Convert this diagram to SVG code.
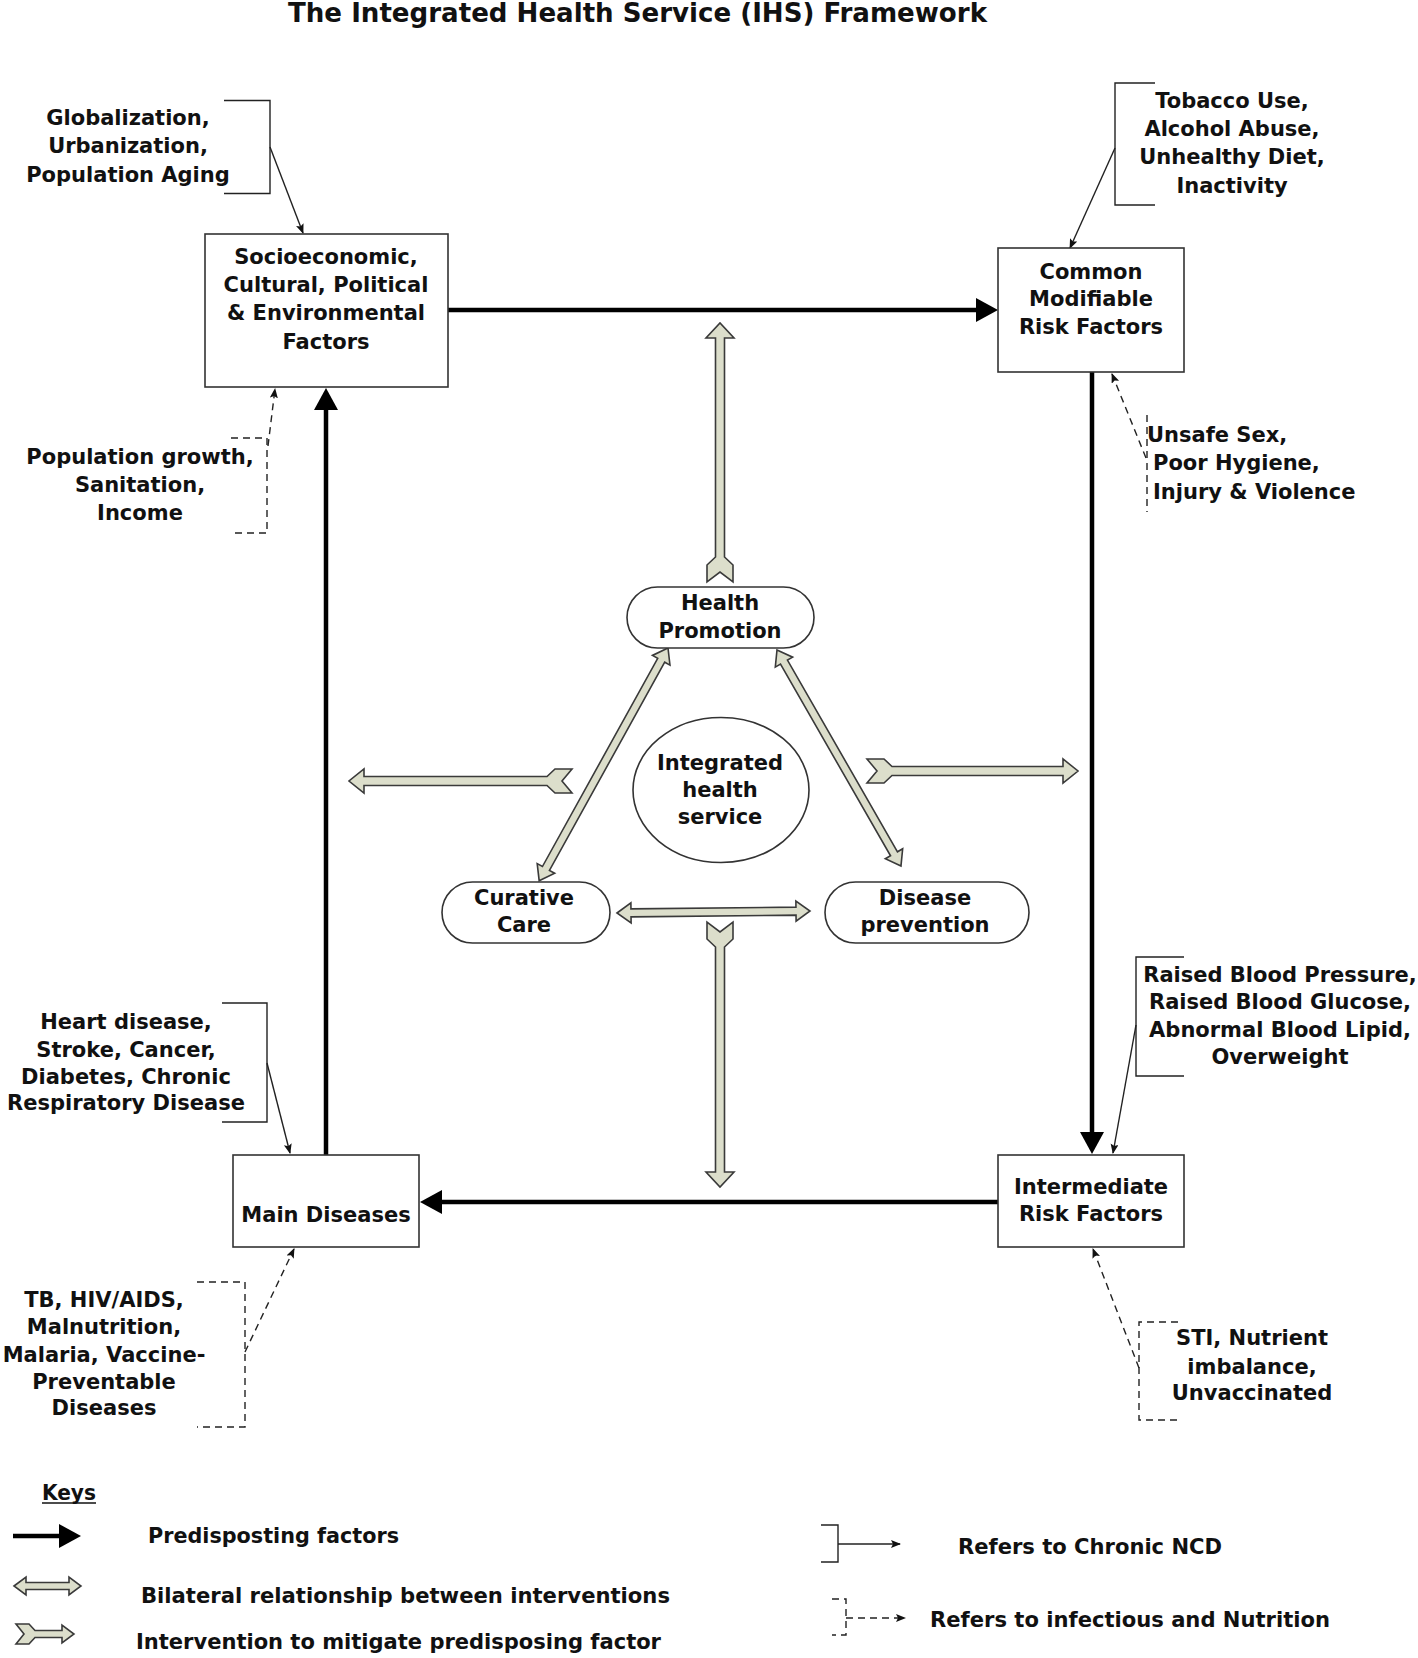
<svg xmlns="http://www.w3.org/2000/svg" width="1418" height="1658" viewBox="0 0 1418 1658">
<style>
  .bg{fill:#ffffff}
  .box{fill:#ffffff;stroke:#333333;stroke-width:1.6}
  .t{font-family:"DejaVu Sans","Verdana",sans-serif;font-weight:bold;font-size:21px;fill:#111111;text-anchor:middle}
  .tl{font-family:"DejaVu Sans","Verdana",sans-serif;font-weight:bold;font-size:21px;fill:#111111;text-anchor:start}
  .title{font-family:"Liberation Sans Narrow","DejaVu Sans Condensed","Liberation Sans",sans-serif;font-weight:bold;font-size:27px;fill:#111111}
  .key{font-family:"Liberation Sans Narrow","DejaVu Sans Condensed","Liberation Sans",sans-serif;font-weight:bold;font-size:22px;fill:#111111}
  .main{stroke:#000000;stroke-width:4.5;fill:none}
  .thin{stroke:#222222;stroke-width:1.4;fill:none}
  .dash{stroke:#222222;stroke-width:1.4;fill:none;stroke-dasharray:7,5}
  .grey{fill:#dcdecb;stroke:#3a3a3a;stroke-width:1.6;stroke-linejoin:miter}
</style>
<defs>
  <marker id="big" markerUnits="userSpaceOnUse" markerWidth="26" markerHeight="26" refX="2" refY="12" orient="auto">
    <path d="M0,0 L22,12 L0,24 Z" fill="#000000"/>
  </marker>
  <marker id="small" markerUnits="userSpaceOnUse" markerWidth="12" markerHeight="10" refX="9" refY="4" orient="auto">
    <path d="M0,0 L10,4 L0,8 L2,4 Z" fill="#111111"/>
  </marker>
</defs>
<rect class="bg" x="0" y="0" width="1418" height="1658"/>

<text class="title" x="288" y="22" textLength="699" lengthAdjust="spacingAndGlyphs">The Integrated Health Service (IHS) Framework</text>

<g id="connectors">
  <!-- main predisposing arrows -->
  <path class="main" d="M448,310 L978,310" marker-end="url(#big)"/>
  <path class="main" d="M1092,372 L1092,1134" marker-end="url(#big)"/>
  <path class="main" d="M998,1202 L440,1202" marker-end="url(#big)"/>
  <path class="main" d="M326,1155 L326,408" marker-end="url(#big)"/>

  <!-- chronic NCD brackets (solid) -->
  <path class="thin" d="M224,100.5 H270 V193.5 H224"/>
  <path class="thin" d="M270,147 L303,233" marker-end="url(#small)"/>
  <path class="thin" d="M1155,83 H1115 V205 H1155"/>
  <path class="thin" d="M1115,148 L1070,248" marker-end="url(#small)"/>
  <path class="thin" d="M222,1003 H267 V1122 H222"/>
  <path class="thin" d="M267,1063 L290,1153" marker-end="url(#small)"/>
  <path class="thin" d="M1184,957 H1136 V1076 H1184"/>
  <path class="thin" d="M1136,1025 L1113,1153" marker-end="url(#small)"/>

  <!-- infectious / nutrition brackets (dashed) -->
  <path class="dash" d="M231,438 H267 V533 H235"/>
  <path class="dash" d="M268,446 L275,389" marker-end="url(#small)"/>
  <path class="dash" d="M1147,415 V512"/>
  <path class="dash" d="M1146,458 L1112,374" marker-end="url(#small)"/>
  <path class="dash" d="M197,1282 H245 V1427 H197"/>
  <path class="dash" d="M245,1352 L294,1249" marker-end="url(#small)"/>
  <path class="dash" d="M1178,1322 H1139 V1420 H1178"/>
  <path class="dash" d="M1139,1368 L1093,1249" marker-end="url(#small)"/>

  <!-- intervention arrows (chevron tail) -->
  <path class="grey" transform="translate(720,582) rotate(-90)" d="M0,-13 L17,-13 L25,-4.5 L244,-4.5 L244,-14 L259,0 L244,14 L244,4.5 L25,4.5 L17,13 L0,13 L10,0 Z"/>
  <path class="grey" transform="translate(720,922) rotate(90)" d="M0,-13 L17,-13 L25,-4.5 L250,-4.5 L250,-14 L265,0 L250,14 L250,4.5 L25,4.5 L17,13 L0,13 L10,0 Z"/>
  <path class="grey" transform="translate(572,781) rotate(180)" d="M0,-12 L17,-12 L25,-4.5 L208,-4.5 L208,-12 L223,0 L208,12 L208,4.5 L25,4.5 L17,12 L0,12 L10,0 Z"/>
  <path class="grey" transform="translate(867,771)" d="M0,-12 L17,-12 L25,-4.5 L196,-4.5 L196,-12 L211,0 L196,12 L196,4.5 L25,4.5 L17,12 L0,12 L10,0 Z"/>

  <!-- bilateral arrows -->
  <path class="grey" transform="translate(668,648) rotate(118.97)" d="M0,0 L14,-10 L14,-4 L252,-4 L252,-10 L266,0 L252,10 L252,4 L14,4 L14,10 Z"/>
  <path class="grey" transform="translate(777,650) rotate(60.14)" d="M0,0 L14,-10 L14,-4 L235,-4 L235,-10 L249,0 L235,10 L235,4 L14,4 L14,10 Z"/>
  <path class="grey" transform="translate(617,913) rotate(-0.6)" d="M0,0 L14,-10 L14,-4 L179,-4 L179,-10 L193,0 L179,10 L179,4 L14,4 L14,10 Z"/>
</g>

<g id="node-socio">
  <rect class="box" x="205" y="234" width="243" height="153"/>
  <text class="t" x="326" y="264">Socioeconomic,</text>
  <text class="t" x="326" y="292">Cultural, Political</text>
  <text class="t" x="326" y="320">&amp; Environmental</text>
  <text class="t" x="326" y="349">Factors</text>
</g>
<g id="node-common">
  <rect class="box" x="998" y="248" width="186" height="124"/>
  <text class="t" x="1091" y="279">Common</text>
  <text class="t" x="1091" y="306">Modifiable</text>
  <text class="t" x="1091" y="334">Risk Factors</text>
</g>
<g id="node-intermediate">
  <rect class="box" x="998" y="1155" width="186" height="92"/>
  <text class="t" x="1091" y="1194">Intermediate</text>
  <text class="t" x="1091" y="1221">Risk Factors</text>
</g>
<g id="node-main">
  <rect class="box" x="233" y="1155" width="186" height="92"/>
  <text class="t" x="326" y="1222">Main Diseases</text>
</g>

<g id="node-health-promotion">
  <rect class="box" x="627" y="587" width="187" height="61" rx="30.5"/>
  <text class="t" x="720" y="610">Health</text>
  <text class="t" x="720" y="638">Promotion</text>
</g>
<g id="node-curative">
  <rect class="box" x="442" y="882" width="168" height="61" rx="30.5"/>
  <text class="t" x="524" y="905">Curative</text>
  <text class="t" x="524" y="932">Care</text>
</g>
<g id="node-prevention">
  <rect class="box" x="825" y="882" width="204" height="61" rx="30.5"/>
  <text class="t" x="925" y="905">Disease</text>
  <text class="t" x="925" y="932">prevention</text>
</g>
<g id="node-integrated">
  <ellipse class="box" cx="721" cy="790" rx="88" ry="72.5"/>
  <text class="t" x="720" y="770">Integrated</text>
  <text class="t" x="720" y="797">health</text>
  <text class="t" x="720" y="824">service</text>
</g>

<g id="note-globalization">
  <text class="t" x="128" y="125">Globalization,</text>
  <text class="t" x="128" y="153">Urbanization,</text>
  <text class="t" x="128" y="182">Population Aging</text>
</g>
<g id="note-tobacco">
  <text class="t" x="1232" y="108">Tobacco Use,</text>
  <text class="t" x="1232" y="136">Alcohol Abuse,</text>
  <text class="t" x="1232" y="164">Unhealthy Diet,</text>
  <text class="t" x="1232" y="193">Inactivity</text>
</g>
<g id="note-population">
  <text class="t" x="140" y="464">Population growth,</text>
  <text class="t" x="140" y="492">Sanitation,</text>
  <text class="t" x="140" y="520">Income</text>
</g>
<g id="note-unsafe">
  <text class="tl" x="1147" y="442">Unsafe Sex,</text>
  <text class="tl" x="1153" y="470">Poor Hygiene,</text>
  <text class="tl" x="1153" y="499">Injury &amp; Violence</text>
</g>
<g id="note-heart">
  <text class="t" x="126" y="1029">Heart disease,</text>
  <text class="t" x="126" y="1057">Stroke, Cancer,</text>
  <text class="t" x="126" y="1084">Diabetes, Chronic</text>
  <text class="t" x="126" y="1110">Respiratory Disease</text>
</g>
<g id="note-tb">
  <text class="t" x="104" y="1307">TB, HIV/AIDS,</text>
  <text class="t" x="104" y="1334">Malnutrition,</text>
  <text class="t" x="104" y="1362">Malaria, Vaccine-</text>
  <text class="t" x="104" y="1389">Preventable</text>
  <text class="t" x="104" y="1415">Diseases</text>
</g>
<g id="note-raised">
  <text class="t" x="1280" y="982">Raised Blood Pressure,</text>
  <text class="t" x="1280" y="1009">Raised Blood Glucose,</text>
  <text class="t" x="1280" y="1037">Abnormal Blood Lipid,</text>
  <text class="t" x="1280" y="1064">Overweight</text>
</g>
<g id="note-sti">
  <text class="t" x="1252" y="1345">STI, Nutrient</text>
  <text class="t" x="1252" y="1374">imbalance,</text>
  <text class="t" x="1252" y="1400">Unvaccinated</text>
</g>

<g id="legend">
  <text class="key" x="42" y="1500" textLength="54" lengthAdjust="spacingAndGlyphs">Keys</text>
  <line x1="42" y1="1503" x2="96" y2="1503" stroke="#111111" stroke-width="1.6"/>
  <path class="main" d="M13,1536 L61,1536" marker-end="url(#big)"/>
  <text class="key" x="148" y="1543" textLength="251" lengthAdjust="spacingAndGlyphs">Predisposting factors</text>
  <path class="grey" transform="translate(14,1586)" d="M0,0 L12,-9 L12,-3.5 L55,-3.5 L55,-9 L67,0 L55,9 L55,3.5 L12,3.5 L12,9 Z"/>
  <text class="key" x="141" y="1603" textLength="529" lengthAdjust="spacingAndGlyphs">Bilateral relationship between interventions</text>
  <path class="grey" transform="translate(16,1634)" d="M0,-10 L13,-10 L19,-3.5 L46,-3.5 L46,-9 L58,0 L46,9 L46,3.5 L19,3.5 L13,10 L0,10 L8,0 Z"/>
  <text class="key" x="136" y="1649" textLength="525" lengthAdjust="spacingAndGlyphs">Intervention to mitigate predisposing factor</text>
  <path class="thin" d="M821,1525 H838 V1562 H821"/>
  <path class="thin" d="M838,1544 L900,1544" marker-end="url(#small)"/>
  <text class="key" x="958" y="1554" textLength="264" lengthAdjust="spacingAndGlyphs">Refers to Chronic NCD</text>
  <path class="dash" d="M832,1599 H846 V1635 H832"/>
  <path class="dash" d="M846,1618 L905,1618" marker-end="url(#small)"/>
  <text class="key" x="930" y="1627" textLength="400" lengthAdjust="spacingAndGlyphs">Refers to infectious and Nutrition</text>
</g>
</svg>
